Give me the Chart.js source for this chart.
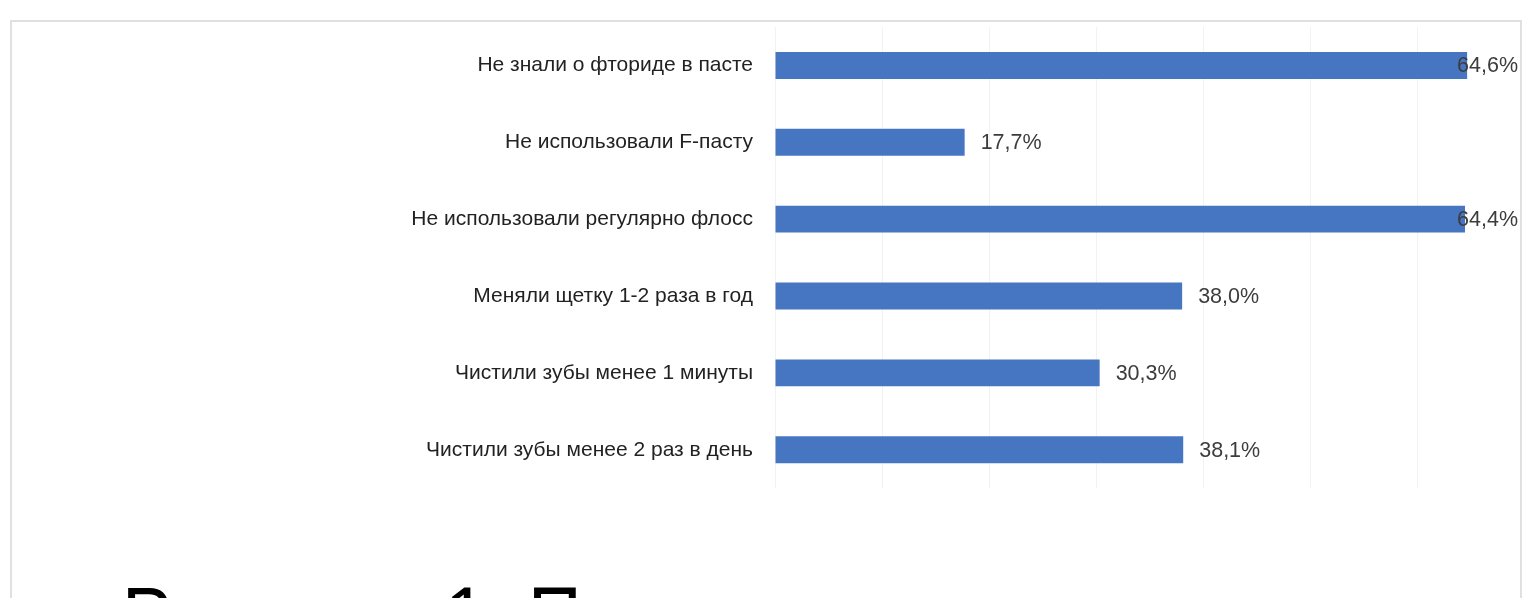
<!DOCTYPE html>
<html>
<head>
<meta charset="utf-8">
<script src="https://cdn.jsdelivr.net/npm/chart.js@4.4.1/dist/chart.umd.min.js"></script>
<style>
  html, body { margin: 0; padding: 0; background: #ffffff; overflow: hidden; width: 1525px; height: 598px; }
  #frame { position: absolute; left: 10px; top: 20px; width: 1512px; height: 700px; border: 2px solid #e0e0e0; border-bottom: none; box-sizing: border-box; }
  #wrap { position: absolute; left: 0; top: 0; width: 1525px; height: 680px; }
</style>
</head>
<body>
<div id="frame"></div>
<div id="wrap"><canvas id="c" width="1525" height="680"></canvas></div>
<script>
const categories = [
  "Не знали о фториде в пасте",
  "Не использовали F-пасту",
  "Не использовали регулярно флосс",
  "Меняли щетку 1-2 раза в год",
  "Чистили зубы менее 1 минуты",
  "Чистили зубы менее 2 раз в день"
];
const values = [64.6, 17.7, 64.4, 38.0, 30.3, 38.1];
const valueLabels = ["64,6%", "17,7%", "64,4%", "38,0%", "30,3%", "38,1%"];
const captionText = "Рисунок  1. Показатели гигиены полости";

const labelFont = '"Liberation Sans", Arial, sans-serif';

const valueLabelPlugin = {
  id: 'valueLabels',
  afterDatasetsDraw(chart) {
    const ctx = chart.ctx;
    const meta = chart.getDatasetMeta(0);
    const area = chart.chartArea;
    ctx.save();
    ctx.font = '21.5px ' + labelFont;
    ctx.fillStyle = '#3c3c3c';
    ctx.textBaseline = 'middle';
    ctx.textAlign = 'left';
    meta.data.forEach((bar, i) => {
      const txt = valueLabels[i];
      const w = ctx.measureText(txt).width;
      let x = bar.x + 16;
      const limit = area.right - 7 - w;
      if (x > limit) x = limit;
      ctx.fillText(txt, x, bar.y + 1);
    });
    ctx.restore();
  }
};

new Chart(document.getElementById('c'), {
  type: 'bar',
  data: {
    labels: categories,
    datasets: [{
      data: values,
      backgroundColor: '#4676c2',
      borderWidth: 0,
      barPercentage: 0.35,
      categoryPercentage: 1.0
    }]
  },
  options: {
    indexAxis: 'y',
    responsive: false,
    animation: false,
    devicePixelRatio: 1,
    layout: { padding: { top: 27, left: 122, right: 0, bottom: 0 } },
    plugins: {
      legend: { display: false },
      tooltip: { enabled: false },
      title: {
        display: true,
        position: 'bottom',
        text: captionText,
        align: 'start',
        color: '#000000',
        font: { family: '"Liberation Sans", Arial, sans-serif', size: 84, weight: 'normal' },
        padding: { top: 83, bottom: 8 }
      }
    },
    scales: {
      x: {
        min: 0,
        max: 70,
        ticks: { display: false, stepSize: 10 },
        grid: { color: '#f2f2f2', drawTicks: false, lineWidth: 1 },
        border: { display: false }
      },
      y: {
        ticks: {
          color: '#222222',
          padding: 22,
          font: { family: labelFont, size: 21 }
        },
        grid: { display: false, drawTicks: false },
        border: { display: false },
        afterFit(scale) {
          scale.width = 775 - 122;
          scale.paddingTop = 0;
          scale.paddingBottom = 0;
        }
      }
    }
  },
  plugins: [valueLabelPlugin]
});
</script>
</body>
</html>
